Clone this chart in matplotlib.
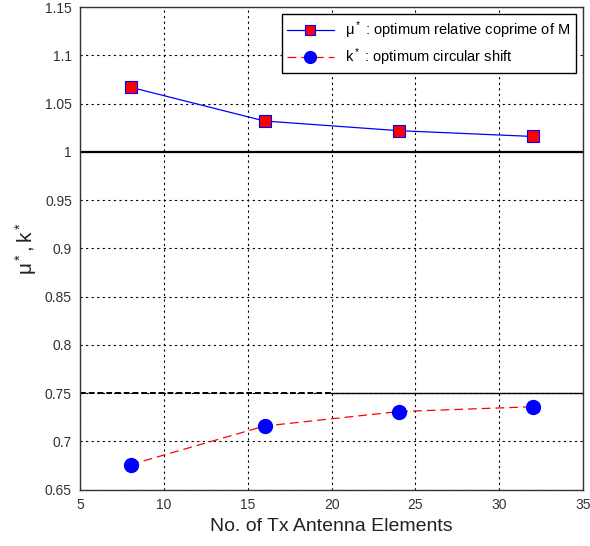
import matplotlib
matplotlib.use("Agg")
import matplotlib.pyplot as plt

n_tx = [8, 16, 24, 32]
mu_opt = [1.067, 1.032, 1.022, 1.016]
k_opt = [0.676, 0.716, 0.731, 0.736]

plt.rcParams['font.family'] = ['Arial', 'Liberation Sans', 'DejaVu Sans']
plt.rcParams['mathtext.fontset'] = 'custom'
plt.rcParams['mathtext.rm'] = 'Liberation Sans'
plt.rcParams['mathtext.it'] = 'Liberation Sans'

fig = plt.figure(figsize=(5.9, 5.46), dpi=100)
ax = fig.add_axes([0.136, 0.103, 0.852, 0.884])

ax.plot(n_tx, mu_opt, color='blue', lw=0.9, marker='s', ms=9,
        mfc='red', mec='blue', mew=0.8,
        label=r'$\mathregular{\mu^*}$ : optimum relative coprime of M')
ax.plot(n_tx, k_opt, color='red', lw=0.9, ls=(0, (7, 4)), marker='o', ms=10,
        mfc='blue', mec='blue',
        label=r'$\mathregular{k^*}$ : optimum circular shift')

# heavy reference lines seen in the original
ax.axhline(1.0, color='black', lw=1.6, zorder=1)
ax.plot([5, 20], [0.75, 0.75], color='black', lw=1.4, ls=(0, (3, 1.5)), zorder=1)
ax.plot([20, 35], [0.75, 0.75], color='black', lw=1.0, zorder=1)

ax.set_xlim(5, 35)
ax.set_ylim(0.65, 1.15)
ax.set_xticks([5, 10, 15, 20, 25, 30, 35])
ax.set_yticks([0.65, 0.7, 0.75, 0.8, 0.85, 0.9, 0.95, 1, 1.05, 1.1, 1.15])
ax.set_yticklabels(['0.65', '0.7', '0.75', '0.8', '0.85', '0.9', '0.95', '1',
                    '1.05', '1.1', '1.15'])
ax.grid(True, color='black', ls=(0, (2, 3)), lw=0.8)
ax.tick_params(labelsize=10, colors='#333333', length=0, pad=6)
for s in ax.spines.values():
    s.set_color('#333333')
    s.set_linewidth(1.0)

ax.set_xlabel('No. of Tx Antenna Elements', fontsize=14, color='#222222')
ax.set_ylabel(r'$\mathregular{\mu^*, k^*}$', fontsize=15, color='#222222')

leg = ax.legend(loc='upper right', fontsize=10.5, fancybox=False,
                edgecolor='black', framealpha=1, borderaxespad=0.5,
                handlelength=3.2, borderpad=0.35, labelspacing=0.35,
                markerscale=0.85)
leg.get_frame().set_linewidth(1.0)

fig.savefig('out.png', dpi=100)
